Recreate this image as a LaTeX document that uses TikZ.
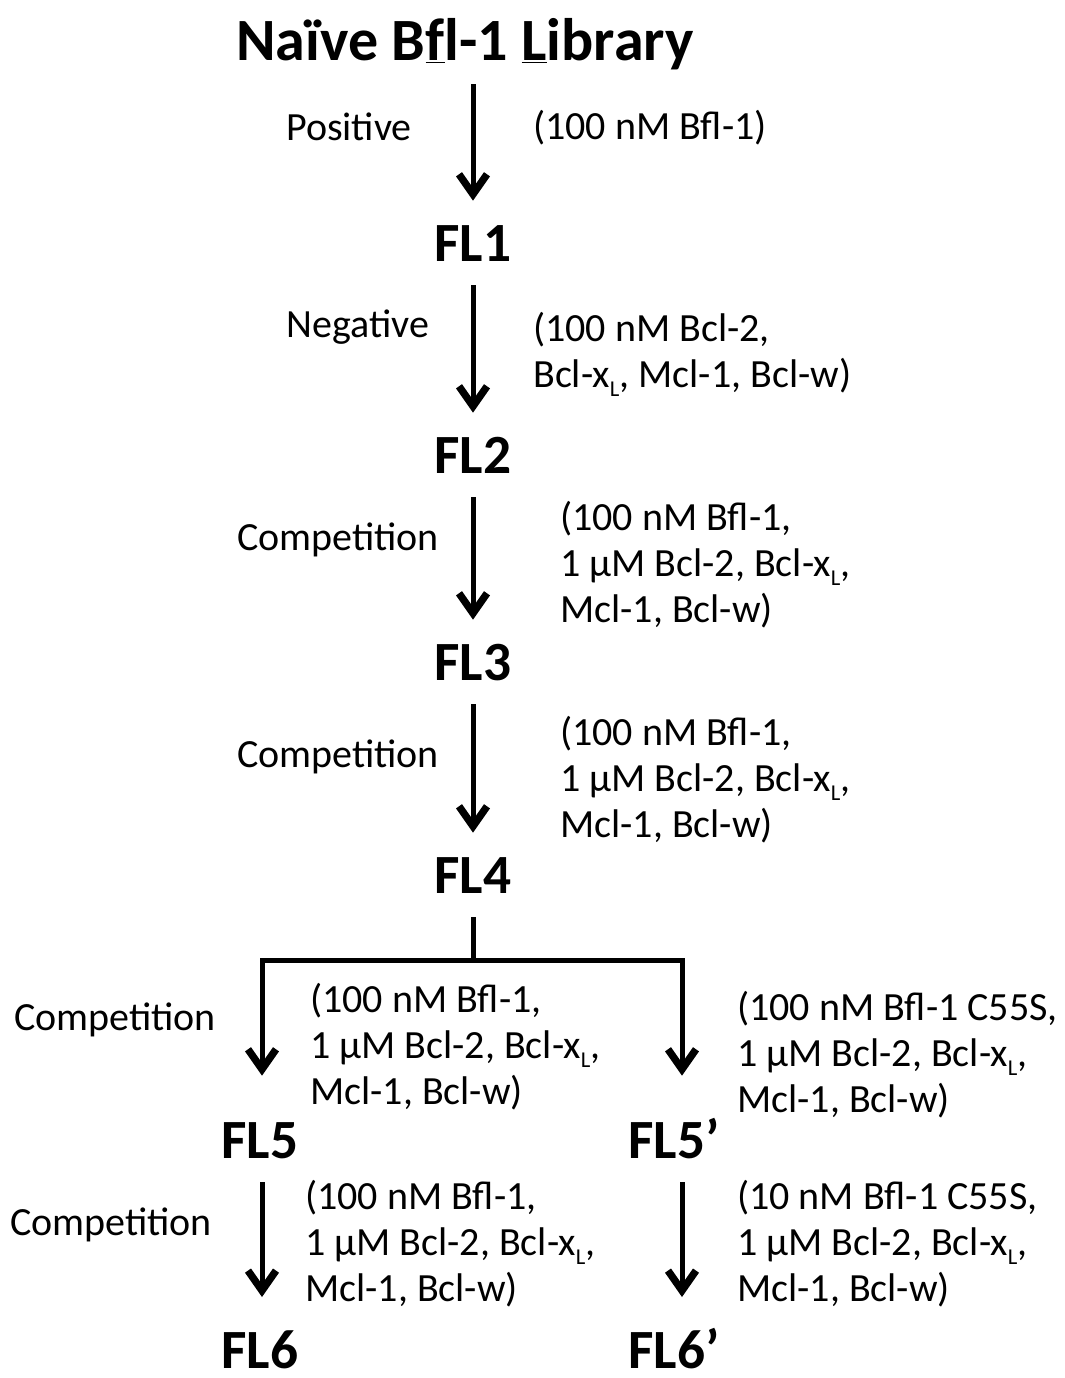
\documentclass[tikz,border=0pt]{standalone}
\usepackage{fontspec}
\setmainfont{Carlito}
\usepackage{tikz}
\usetikzlibrary{arrows.meta}

\newcommand{\bclxl}{Bcl-x\raisebox{-0.22em}{\fontsize{17}{17}\selectfont L}}

\begin{document}
\begin{tikzpicture}[x=0.75pt,y=0.75pt,yscale=-1,xscale=1,
  flow/.style={line width=3.75pt,-{Straight Barb[length=15pt,width=21pt,line width=5.5pt]}},
  stemline/.style={line width=3.75pt},
  stage/.style={font=\fontsize{41.5}{41.5}\selectfont\bfseries,inner sep=0pt,outer sep=18pt,text height=27.5pt,text depth=0pt},
  sel/.style={font=\fontsize{30}{34.5}\selectfont,inner sep=0pt},
  cond/.style={font=\fontsize{30}{34.5}\selectfont,inner sep=0pt,anchor=west,align=left}]
\useasboundingbox (0,0) rectangle (1064,1378);

% Library and stages
\node [font=\fontsize{45}{45}\selectfont\bfseries,inner sep=0pt,outer sep=11pt] (lib) at (465,44) {Naïve B\underline{f}l-1 \underline{L}ibrary};
\node [stage] (fl1) at (473,243) {FL1};
\node [stage] (fl2) at (473,455) {FL2};
\node [stage] (fl3) at (473,662) {FL3};
\node [stage] (fl4) at (473,875) {FL4};
\node [stage] (fl5) at (260,1140) {FL5};
\node [stage] (fl5p) at (674,1140) {FL5’};
\node [stage] (fl6) at (260,1350) {FL6};
\node [stage] (fl6p) at (674,1350) {FL6’};

% Branch points
\coordinate (split) at (473,960);
\coordinate (splitl) at (262,960);
\coordinate (splitr) at (682,960);

% Straight Lines
\draw [flow] (fl1.north |- lib.south) -- (fl1.north);
\draw [flow] (fl1) -- (fl2);
\draw [flow] (fl2) -- (fl3);
\draw [flow] (fl3) -- (fl4);
\draw [stemline] (fl4.south) -- (split);
\draw [stemline,line cap=rect] (splitl) -- (splitr);
\draw [flow,shorten >=16.5pt] (splitl) -- (splitl |- fl5.north);
\draw [flow,shorten >=16.5pt] (splitr) -- (splitr |- fl5p.north);
\draw [flow,shorten >=8pt] (fl5.south -| splitl) -- (fl6.north -| splitl);
\draw [flow,shorten >=8pt] (fl5p.south -| splitr) -- (fl6p.north -| splitr);

% Text Node
\node [sel] (pos) at (349,127) {Positive};
\node [sel] (neg) at (358,327) {Negative};
\node [sel] (comp3) at (338,540) {Competition};
\node [sel] (comp4) at (338,757) {Competition};
\node [sel] (comp5) at (115,1020) {Competition};
\node [sel] (comp6) at (111,1225) {Competition};

% Text Node
\node [cond] (c1) at (533,128) {(100 nM Bfl-1)};
\node [cond] (c2) at (533,354) {(100 nM Bcl-2,\\\bclxl, Mcl-1, Bcl-w)};
\node [cond] (c3) at (560,565) {(100 nM Bfl-1,\\1 µM Bcl-2, \bclxl,\\Mcl-1, Bcl-w)};
\node [cond] (c4) at (560,780) {(100 nM Bfl-1,\\1 µM Bcl-2, \bclxl,\\Mcl-1, Bcl-w)};
\node [cond] (c5) at (310,1047) {(100 nM Bfl-1,\\1 µM Bcl-2, \bclxl,\\Mcl-1, Bcl-w)};
\node [cond] (c5p) at (737,1055) {(100 nM Bfl-1 C55S,\\1 µM Bcl-2, \bclxl,\\Mcl-1, Bcl-w)};
\node [cond] (c6) at (305,1244) {(100 nM Bfl-1,\\1 µM Bcl-2, \bclxl,\\Mcl-1, Bcl-w)};
\node [cond] (c6p) at (737,1244) {(10 nM Bfl-1 C55S,\\1 µM Bcl-2, \bclxl,\\Mcl-1, Bcl-w)};

\end{tikzpicture}
\end{document}
